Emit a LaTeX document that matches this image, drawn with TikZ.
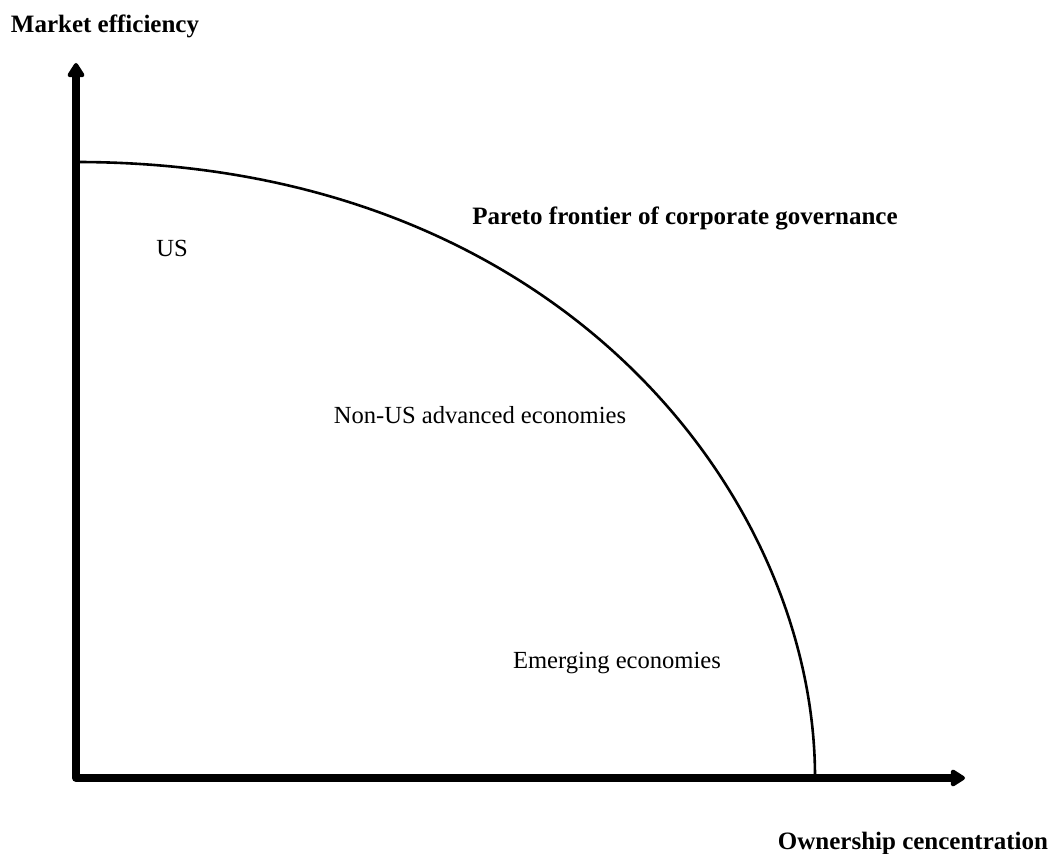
\documentclass[tikz,border=0pt]{standalone}
\usepackage{fontspec}
\setmainfont{Liberation Serif}
\usetikzlibrary{arrows.meta}

\begin{document}
\begin{tikzpicture}[x=0.5pt,y=0.5pt,
    axislabel/.style={font=\fontsize{12.5}{14}\selectfont\bfseries},
    region/.style={font=\fontsize{12.3}{14}\selectfont},
    axis/.style={line width=4pt,line join=round,{Triangle[round,length=8pt,width=9.5pt]}-{Triangle[round,length=8pt,width=9.5pt]}}]
    \useasboundingbox (0,0) rectangle (1050,853);
    % Axes
    \coordinate (ytip) at (76,790);
    \coordinate (origin) at (76,75);
    \coordinate (xtip) at (965,75);
    \draw[axis] (ytip) -- (origin) -- (xtip);
    % Frontier
    \coordinate (ftop) at (76,691);
    \coordinate (fbottom) at (815,76);
    \draw[line width=1.3pt] (ftop) .. controls (564,691) and (815,353) .. (fbottom);
    % Labels
    \node[axislabel] (ylabel) at (105,827) {Market efficiency};
    \node[axislabel] (xlabel) at (913,10) {Ownership cencentration};
    \node[axislabel] (frontier) at (685,635) {Pareto frontier of corporate governance};
    \node[region] (us) at (172,605) {US};
    \node[region] (nonus) at (480,438) {Non-US advanced economies};
    \node[region] (emerging) at (617,190) {Emerging economies};
\end{tikzpicture}
\end{document}
